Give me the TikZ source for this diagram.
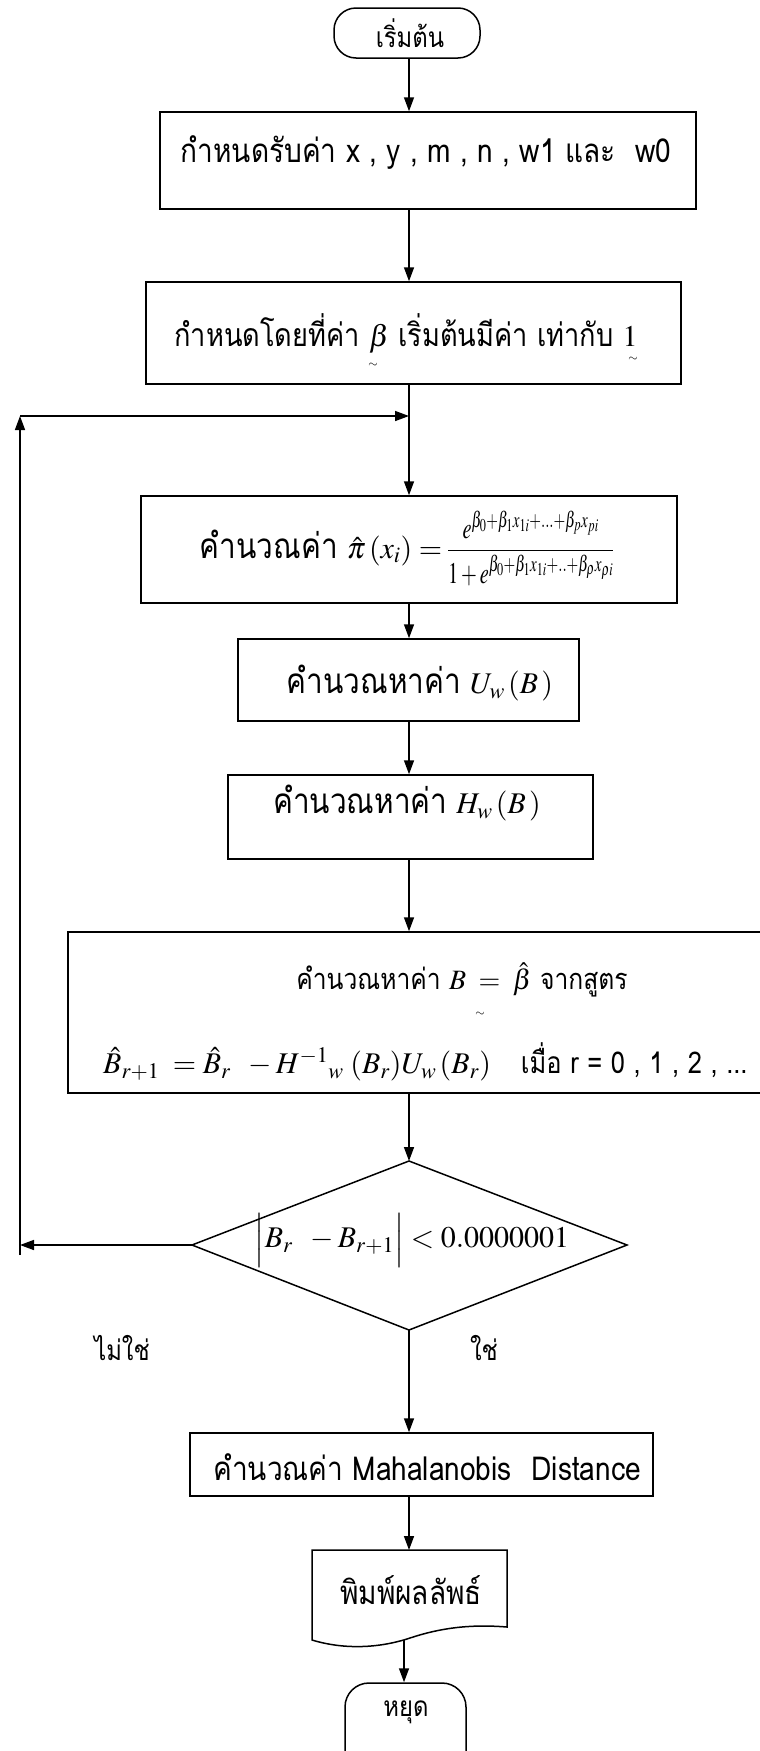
\documentclass[tikz,border=0pt]{standalone}
\usepackage{mathptmx}
\usepackage{fontspec}
\newfontfamily\thai[Script=Thai,FakeStretch=0.85]{Loma}
\usetikzlibrary{arrows.meta}
\newcommand{\thbig}{\thai\fontsize{33}{38}\selectfont}
\newcommand{\thcalc}{\thai\fontsize{35}{40}\selectfont}
\newcommand{\thmid}{\thai\fontsize{29}{34}\selectfont}
\tikzset{
  ln/.style={line width=1.5pt},
  box/.style={draw, line width=1.5pt, rectangle, inner sep=0pt},
  term/.style={draw, line width=1.5pt, rectangle, rounded corners=22pt, inner sep=0pt},
  arr/.style={line width=1.5pt, -{Triangle[length=14pt,width=10pt]}},
  th/.style={font=\thbig, inner sep=0pt},
  thsmall/.style={font=\thai\fontsize{28}{32}\selectfont, inner sep=0pt},
  mt/.style={font=\fontsize{30}{34}\selectfont, inner sep=0pt},
  tld/.style={font=\fontsize{12}{12}\selectfont, inner sep=0pt}
}
\begin{document}
\begin{tikzpicture}[x=1pt,y=-1pt]
\useasboundingbox (0,0) rectangle (760,1751);
\coordinate (ax) at (409,0);
% shapes
\node[term, minimum width=146pt, minimum height=50pt] (start) at (407,33) {};
\node[box, minimum width=536pt, minimum height=97pt] (b1) at (428,160.5) {};
\node[box, minimum width=535pt, minimum height=102pt] (b2) at (413.5,333) {};
\node[box, minimum width=536pt, minimum height=107pt] (b3) at (409,549.5) {};
\node[box, minimum width=341pt, minimum height=82pt] (b4) at (408.5,680) {};
\node[box, minimum width=365pt, minimum height=84pt] (b5) at (410.5,817) {};
\node[box, minimum width=730pt, minimum height=161pt] (b6) at (433,1012.5) {};
\draw[ln] (192,1245) coordinate (dl) -- (409,1161) coordinate (dt) -- (627,1245) coordinate (dr) -- (409,1330) coordinate (db) -- cycle;
\node[box, minimum width=463pt, minimum height=63pt] (b7) at (421.5,1464.5) {};
\draw[ln] (312,1550) coordinate (doctl) -- (507,1550) -- (507,1627)
  .. controls (470,1624) and (440,1628) .. (410,1638)
  .. controls (380,1648) and (345,1650) .. (312,1640) -- cycle;
\coordinate (docb) at (404,1640);
\node[term, rounded corners=24pt, minimum width=121pt, minimum height=100pt] (stop) at (405.5,1733) {};
% texts
\node[thsmall] (tstart) at (410,33) {เริ่มต้น};
\node[th] (t1) at (426,153) {กำหนดรับค่า x , y , m , n , w1 และ\hspace{0.6em}w0};
\node[th, font=\thai\fontsize{32}{36}\selectfont] (t2) at (406,333) {กำหนดโดยที่ค่า {\fontsize{30}{34}\selectfont$\beta$} เริ่มต้นมีค่า เท่ากับ {\fontsize{30}{34}\selectfont$1$}};
\node[tld] (tl1) at (373,365) {$\sim$};
\node[tld] (tl2) at (633,359) {$\sim$};
\node[mt] (t3) at (407,548) {{\thcalc คำนวณค่า} $\hat{\pi}\left(x_i\right)=$\,\scalebox{0.68}[1]{$\displaystyle\frac{e^{\beta_0+\beta_1x_{1i}+\ldots+\beta_px_{pi}}}{1+e^{\beta_0+\beta_1x_{1i}+..+\beta_\rho x_{\rho i}}}$}};
\node[mt] (t4) at (420,683) {{\thcalc คำนวณหาค่า} $U_w\,(B\,)$};
\node[mt] (t5) at (407,803) {{\thcalc คำนวณหาค่า} $H_w\,(B\,)$};
\node[mt, font=\fontsize{28}{32}\selectfont] (t6a) at (462,980) {{\thmid คำนวณหาค่า} $B\;=\;\hat{\beta}$ {\thmid จากสูตร}};
\node[tld] (tl3) at (480,1014) {$\sim$};
\node[mt, anchor=west] (t6b) at (103,1062) {$\hat{B}_{r+1}\;=\hat{B}_r\;\;-H^{-1}{}_w\;(B_r)U_w\,(B_r)$\hspace{1em}{\thai\fontsize{30}{34}\selectfont เมื่อ r = 0 , 1 , 2 , ...}};
\node[mt] (td) at (412,1240) {$\Bigl|B_r\;\;-B_{r+1}\Bigr|<0.0000001$};
\node[thsmall] (tno) at (122,1348) {ไม่ใช่};
\node[thsmall] (tyes) at (484,1348) {ใช่};
\node[th] (t7) at (427,1467) {คำนวณค่า Mahalanobis\hspace{0.6em}Distance};
\node[th] (tdoc) at (411,1590) {พิมพ์ผลลัพธ์};
\node[thsmall] (tstop) at (406,1712) {หยุด};
% connectors
\draw[arr] (ax |- start.south) -- (ax |- b1.north);
\draw[arr] (ax |- b1.south) -- (ax |- b2.north);
\draw[arr] (ax |- b2.south) -- (ax |- b3.north);
\coordinate (J) at (409,416);
\coordinate (Lt) at (20,416);
\coordinate (Lb) at (20,1255);
\coordinate (Lm) at (20,1245);
\draw[arr] (Lb) -- (Lt);
\draw[arr] (Lt) -- (J);
\draw[arr] (dl) -- (Lm);
\draw[arr] (ax |- b3.south) -- (ax |- b4.north);
\draw[arr] (ax |- b4.south) -- (ax |- b5.north);
\draw[arr] (ax |- b5.south) -- (ax |- b6.north);
\draw[arr] (ax |- b6.south) -- (dt);
\draw[arr] (db) -- (ax |- b7.north);
\draw[arr] (ax |- b7.south) -- (ax |- doctl);
\draw[arr] (docb) -- (docb |- stop.north);
\end{tikzpicture}
\end{document}
